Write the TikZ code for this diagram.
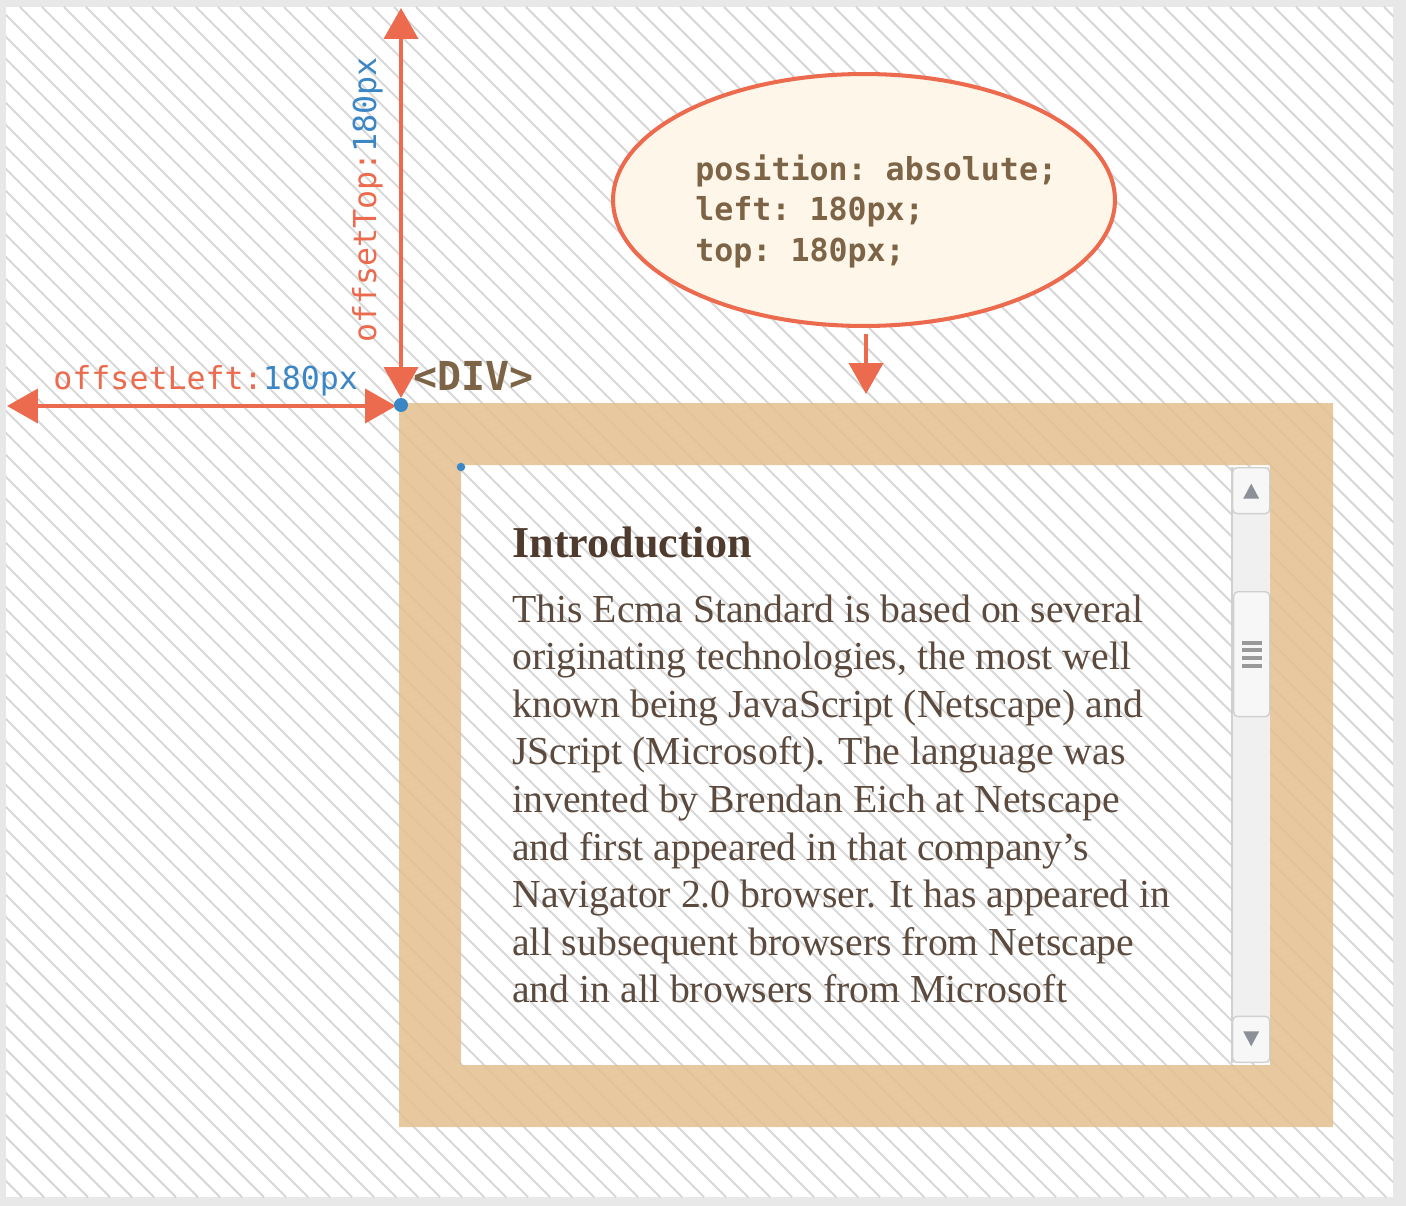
\documentclass[tikz,border=0pt]{standalone}
\usepackage{fontspec}
\setmainfont{Liberation Serif}
\setmonofont{DejaVu Sans Mono}
\usetikzlibrary{positioning,arrows.meta,shapes.geometric}

\definecolor{edgegray}{HTML}{E8E8E8}
\definecolor{stripe}{HTML}{808080}
\definecolor{redline}{HTML}{EC6B4E}
\definecolor{bluetext}{HTML}{3B86C4}
\definecolor{codebrown}{HTML}{7D6446}
\definecolor{framefill}{HTML}{E4BF8F}
\definecolor{notefill}{HTML}{FEF7E9}
\definecolor{bodytext}{HTML}{5B4A3D}
\definecolor{titletext}{HTML}{4E3B2E}
\definecolor{trackfill}{HTML}{F0F0F0}
\definecolor{trackline}{HTML}{D0D0D0}
\definecolor{tipgray}{HTML}{8C9099}

\tikzset{
  bigtip/.tip={Triangle[width=0.68cm,length=0.62cm]},
  measure/.style={draw=redline, line width=2.3pt, bigtip-bigtip},
  pointer/.style={draw=redline, line width=2.3pt, -bigtip},
  codetext/.style={font=\ttfamily\fontsize{18}{23.2}\selectfont, text=codebrown, inner sep=0pt},
  bodyline/.style={anchor=base west, inner sep=0pt, text=bodytext, font=\fontsize{22.6}{27}\selectfont},
  sbbutton/.style={draw=trackline, fill=white!97!black, rounded corners=2.5pt, line width=0.8pt},
  dotmark/.style={circle, fill=bluetext, inner sep=0pt}
}

\begin{document}
\begin{tikzpicture}[x=0.02cm, y=-0.02cm]
  \useasboundingbox (0,0) rectangle (1406,1206);
  \fill[edgegray] (0,0) rectangle (1406,1206);
  \fill[white] (6,7) rectangle (1393,1197);

  % background stripes
  \begin{scope}
    \clip (6,7) rectangle (1393,1197);
    \foreach \k in {-1190,-1168,...,1400}
      \draw[stripe, opacity=0.3, line width=1.2pt] (\k,7) -- ++(1190,1190);
  \end{scope}

  % the box, its content area left open
  \fill[framefill, opacity=0.85, even odd rule] (399,403) rectangle (1333,1127) (461,465) rectangle (1270,1065);

  % scrollbar
  \fill[trackfill] (1232,467) rectangle (1270,1063);
  \draw[trackline, line width=0.6pt] (1232,467) -- (1232,1063);
  \node[sbbutton, minimum width=0.74cm, minimum height=0.92cm, anchor=north west] (btnup) at (1232,467) {};
  \node[sbbutton, minimum width=0.72cm, minimum height=2.5cm, anchor=north west] (thumb) at (1233,591) {};
  \node[sbbutton, minimum width=0.74cm, minimum height=0.92cm, anchor=south west] (btndown) at (1232,1063) {};
  \fill[tipgray] ([yshift=-0.02cm]btnup.center) ++(-8,7) -- ++(16,0) -- ++(-8,-15) -- cycle;
  \fill[tipgray] ([yshift=0.02cm]btndown.center) ++(-8,-7) -- ++(16,0) -- ++(-8,15) -- cycle;
  \foreach \g in {-11.4,-3.8,3.8,11.4}
    \fill[black!40] ([yshift=-\g*0.02cm]thumb.center) ++(-10,-2) rectangle ++(20,4);

  % text of the content area
  \node[anchor=base west, inner sep=0pt, text=titletext, font=\bfseries\fontsize{25.1}{30}\selectfont] (title) at (512,557) {Introduction};
  \foreach \txt [count=\i] in {This Ecma Standard is based on several,
      {originating technologies, the most well},
      known being JavaScript (Netscape) and,
      JScript (Microsoft). The language was,
      invented by Brendan Eich at Netscape,
      and first appeared in that company’s,
      Navigator 2.0 browser. It has appeared in,
      all subsequent browsers from Netscape,
      and in all browsers from Microsoft}
    \node[bodyline] (line\i) at (512,{622+47.6*(\i-1)}) {\txt};

  % css note
  \node[ellipse, draw=redline, line width=2.3pt, fill=notefill, minimum width=10.04cm, minimum height=5.04cm] (css) at (864,200) {};
  \node[codetext, font=\ttfamily\bfseries\fontsize{18}{23.2}\selectfont, align=left, anchor=north west] (csstext) at (695,154) {position: absolute;\\left: 180px;\\top: 180px;};
  \coordinate (divtop) at (866,394);
  \draw[pointer] (css.south -| divtop) ++(0,6) -- (divtop);

  % offsets
  \coordinate (corner) at (401,405);
  \coordinate (topend) at (401,8);
  \coordinate (leftend) at (7,406);
  \draw[measure] (topend) -- ([yshift=0.14cm]corner);
  \draw[measure] (leftend) -- ([xshift=-0.1cm]corner |- leftend);
  \node[dotmark, minimum size=0.28cm] (cornerdot) at (corner) {};
  \node[dotmark, minimum size=0.17cm] (innerdot) at (461,467) {};

  \node[codetext, anchor=base west] (leftlabel) at (53,389) {\textcolor{redline}{offsetLeft:}\textcolor{bluetext}{180px}};
  \node[codetext, anchor=base west, rotate=90] (toplabel) at (376,343) {\textcolor{redline}{offsetTop:}\textcolor{bluetext}{180px}};
  \node[codetext, font=\ttfamily\bfseries\fontsize{22.7}{27}\selectfont, right=0.24cm of corner, anchor=base west, yshift=0.3cm] (divlabel) {<DIV>};
\end{tikzpicture}
\end{document}
